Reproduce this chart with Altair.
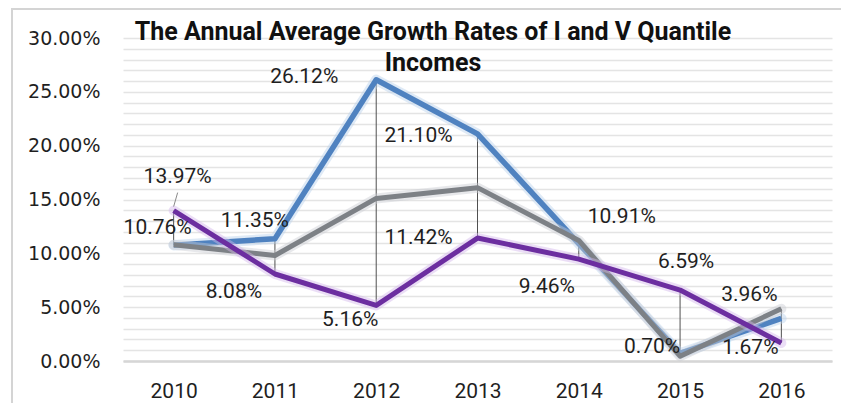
import altair as alt
import pandas as pd

# ---------------- data ----------------
years = ["2010", "2011", "2012", "2013", "2014", "2015", "2016"]
quantile_v = [10.76, 11.35, 26.12, 21.10, 10.91, 0.70, 3.96]   # blue series
quantile_i = [13.97, 8.08, 5.16, 11.42, 9.46, 6.59, 1.67]      # purple series
overall = [10.80, 9.80, 15.10, 16.10, 11.20, 0.45, 4.85]       # grey series (unlabelled)
y_tick_values = list(range(0, 31))
title_lines = ["The Annual Average Growth Rates of I and V Quantile", "Incomes"]

# label offsets (pixels) - styling only, kept apart from data
label_offsets = {
    ("V", "2010"): (-16, -17), ("I", "2010"): (4, -34),
    ("V", "2011"): (-20, -18), ("I", "2011"): (-41, 18),
    ("V", "2012"): (-72, -3),  ("I", "2012"): (-26, 15),
    ("V", "2013"): (-59, 2),   ("I", "2013"): (-59, 0),
    ("V", "2014"): (43, -27),  ("I", "2014"): (-32, 28),
    ("V", "2015"): (-28, -6),  ("I", "2015"): (6, -28),
    ("V", "2016"): (-32, -23), ("I", "2016"): (-31, 5),
}

# ---------------- tables ----------------
def series_df(name, vals):
    return pd.DataFrame({"year": years, "series": name, "value": vals})

df_v = series_df("V", quantile_v)
df_i = series_df("I", quantile_i)
df_o = series_df("O", overall)

df_hl = pd.DataFrame({
    "year": years,
    "value": [max(a, b, c) for a, b, c in zip(quantile_v, quantile_i, overall)],
    "lo": [min(a, b, c) for a, b, c in zip(quantile_v, quantile_i, overall)],
})

W, H = 709, 323
x_scale = alt.Scale(type="point", padding=0.5, domain=years)
y_scale = alt.Scale(domain=[0, 30], nice=False, zero=True)

x_axis = alt.Axis(labelFont="Roboto", labelFontSize=21, labelColor="#1f1f1f",
                  labelAngle=0, ticks=False, grid=False, domainColor="#d6d6d6",
                  domainWidth=2.5, labelPadding=19)
y_axis = alt.Axis(values=y_tick_values, grid=True, gridColor="#e4e4e4", gridWidth=1.6,
                  ticks=False, domain=False, labelOverlap=False,
                  labelExpr="datum.value % 5 == 0 ? format(datum.value, '.2f') + '%' : ''",
                  labelFont="DejaVu Sans", labelFontSize=19, labelColor="#1f1f1f",
                  labelPadding=23)

x_enc = alt.X("year:O", scale=x_scale, sort=years, title=None, axis=x_axis)
y_enc = alt.Y("value:Q", scale=y_scale, title=None, axis=y_axis)

# frame around the chart
frame = alt.Chart(pd.DataFrame({"a": [0]})).mark_rect(
    filled=False, stroke="#d4d4d4", strokeWidth=2
).encode(x=alt.value(-111), x2=alt.value(760), y=alt.value(-29), y2=alt.value(420))

# drop (high-low) lines
drops = alt.Chart(df_hl).mark_rule(color="#505050", strokeWidth=1).encode(
    x=x_enc, y=y_enc, y2="lo:Q",
)

def line_layers(df, core, glow, width):
    g = alt.Chart(df).mark_line(color=glow, strokeWidth=width + 5, opacity=0.45,
                                strokeJoin="round", strokeCap="round").encode(x=x_enc, y=y_enc)
    c = alt.Chart(df).mark_line(color=core, strokeWidth=width,
                                strokeJoin="round", strokeCap="butt").encode(x=x_enc, y=y_enc)
    return [g, c]

layers = [frame, drops]
layers += line_layers(df_v, "#4f82c0", "#b9d0ec", 5.5)
layers += line_layers(df_o, "#7d8186", "#c9cdd2", 5)
layers += line_layers(df_i, "#6c2ea0", "#d2b6ea", 5)

# leader line for the 13.97% label
leader = alt.Chart(df_i.iloc[[0]]).mark_rule(
    color="#8a8a8a", strokeWidth=1, yOffset=-4, y2Offset=-18, x2Offset=4
).encode(x=x_enc, x2="year:O", y=y_enc, y2="value:Q")
layers.append(leader)

# data labels
for name, df in (("V", df_v), ("I", df_i)):
    for k in range(len(years)):
        row = df.iloc[[k]].copy()
        row["label"] = [f"{v:.2f}%" for v in row["value"]]
        dx, dy = label_offsets[(name, row["year"].iloc[0])]
        layers.append(
            alt.Chart(row).mark_text(font="Roboto", fontSize=21, color="#1f1f1f",
                                     dx=dx, dy=dy, baseline="middle", align="center").encode(
                x=x_enc, y=y_enc, text="label:N")
        )

# title as text marks over the plot area
tdf = pd.DataFrame({"a": [0]})
for txt, ypos in zip(title_lines, [-6, 25]):
    layers.append(
        alt.Chart(tdf).mark_text(font="Roboto", fontWeight="bold", fontSize=25, color="#111111",
                                 align="center", baseline="middle", text=txt).encode(
            x=alt.value(310), y=alt.value(ypos))
    )

chart = alt.layer(*layers).properties(
    width=W, height=H,
    autosize=alt.AutoSizeParams(type="none"),
    padding={"left": 115, "top": 30, "right": 9, "bottom": 42},
    background="white",
).configure_view(strokeWidth=0)

chart.save("out.html", embed_options={"renderer": "svg", "actions": False})
